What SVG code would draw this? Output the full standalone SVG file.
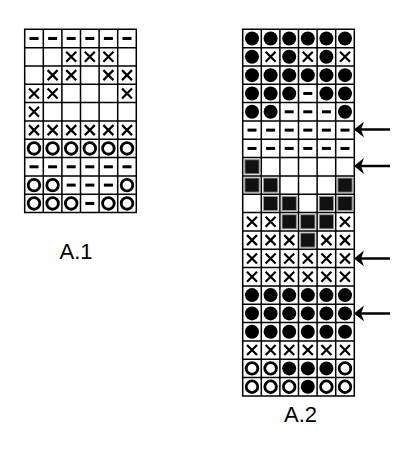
<svg xmlns="http://www.w3.org/2000/svg" xmlns:xlink="http://www.w3.org/1999/xlink" width="406" height="450" viewBox="0 0 406 450">
<style>
.grid{fill:none;stroke:#000;stroke-width:1.5}
.lbl{font-family:"Liberation Sans",Arial,sans-serif;font-size:22px;fill:#000;text-anchor:middle}
.arr{stroke:#000;stroke-width:2.5;fill:none}
</style>
<defs>
<rect id="d" x="-4.5" y="-1.5" width="9" height="3" fill="#000"/>
<path id="x" d="M-5,-5 L5,5 M5,-5 L-5,5" stroke="#000" stroke-width="2.2" fill="none"/>
<circle id="o" r="7" fill="#000"/>
<circle id="r" r="5.8" fill="none" stroke="#000" stroke-width="2.8"/>
<rect id="s" x="-7.2" y="-7.1" width="14.4" height="14.2" fill="#111" stroke="#999" stroke-width="1"/>
<marker id="ah" viewBox="0 0 10 16" refX="7" refY="8" markerWidth="10" markerHeight="16" markerUnits="userSpaceOnUse" orient="auto">
<path d="M0,0 L10,8 L0,16 L3,8 Z" fill="#000"/>
</marker>
</defs>
<rect width="406" height="450" fill="#fff"/>

<g id="A1">
<path class="grid" d="M24.7,29.3 H136.3 V212.6 H24.7 Z M43.3,29.3 V212.6 M61.9,29.3 V212.6 M80.5,29.3 V212.6 M99.1,29.3 V212.6 M117.7,29.3 V212.6 M24.7,47.63 H136.3 M24.7,65.96 H136.3 M24.7,84.29 H136.3 M24.7,102.62 H136.3 M24.7,120.95 H136.3 M24.7,139.28 H136.3 M24.7,157.61 H136.3 M24.7,175.94 H136.3 M24.7,194.27 H136.3"/>
<!-- row 1 -->
<use href="#d" x="34" y="38.47"/><use href="#d" x="52.6" y="38.47"/><use href="#d" x="71.2" y="38.47"/><use href="#d" x="89.8" y="38.47"/><use href="#d" x="108.4" y="38.47"/><use href="#d" x="127" y="38.47"/>
<!-- row 2 -->
<use href="#x" x="71.2" y="56.8"/><use href="#x" x="89.8" y="56.8"/><use href="#x" x="108.4" y="56.8"/>
<!-- row 3 -->
<use href="#x" x="52.6" y="75.13"/><use href="#x" x="71.2" y="75.13"/><use href="#x" x="108.4" y="75.13"/><use href="#x" x="127" y="75.13"/>
<!-- row 4 -->
<use href="#x" x="34" y="93.46"/><use href="#x" x="52.6" y="93.46"/><use href="#x" x="127" y="93.46"/>
<!-- row 5 -->
<use href="#x" x="34" y="111.79"/>
<!-- row 6 -->
<use href="#x" x="34" y="130.12"/><use href="#x" x="52.6" y="130.12"/><use href="#x" x="71.2" y="130.12"/><use href="#x" x="89.8" y="130.12"/><use href="#x" x="108.4" y="130.12"/><use href="#x" x="127" y="130.12"/>
<!-- row 7 -->
<use href="#r" x="34" y="148.45"/><use href="#r" x="52.6" y="148.45"/><use href="#r" x="71.2" y="148.45"/><use href="#r" x="89.8" y="148.45"/><use href="#r" x="108.4" y="148.45"/><use href="#r" x="127" y="148.45"/>
<!-- row 8 -->
<use href="#d" x="34" y="166.78"/><use href="#d" x="52.6" y="166.78"/><use href="#d" x="71.2" y="166.78"/><use href="#d" x="89.8" y="166.78"/><use href="#d" x="108.4" y="166.78"/><use href="#d" x="127" y="166.78"/>
<!-- row 9 -->
<use href="#r" x="34" y="185.11"/><use href="#r" x="52.6" y="185.11"/><use href="#d" x="71.2" y="185.11"/><use href="#d" x="89.8" y="185.11"/><use href="#d" x="108.4" y="185.11"/><use href="#r" x="127" y="185.11"/>
<!-- row 10 -->
<use href="#r" x="34" y="203.44"/><use href="#r" x="52.6" y="203.44"/><use href="#r" x="71.2" y="203.44"/><use href="#d" x="89.8" y="203.44"/><use href="#r" x="108.4" y="203.44"/><use href="#r" x="127" y="203.44"/>
</g>
<g id="A1-label"><text class="lbl" x="76" y="259">A.1</text></g>

<g id="A2">
<path class="grid" d="M242.7,29.3 H354.3 V395.9 H242.7 Z M261.3,29.3 V395.9 M279.9,29.3 V395.9 M298.5,29.3 V395.9 M317.1,29.3 V395.9 M335.7,29.3 V395.9 M242.7,47.63 H354.3 M242.7,65.96 H354.3 M242.7,84.29 H354.3 M242.7,102.62 H354.3 M242.7,120.95 H354.3 M242.7,139.28 H354.3 M242.7,157.61 H354.3 M242.7,175.94 H354.3 M242.7,194.27 H354.3 M242.7,212.6 H354.3 M242.7,230.93 H354.3 M242.7,249.26 H354.3 M242.7,267.59 H354.3 M242.7,285.92 H354.3 M242.7,304.25 H354.3 M242.7,322.58 H354.3 M242.7,340.91 H354.3 M242.7,359.24 H354.3 M242.7,377.57 H354.3"/>
<!-- row 1 -->
<use href="#o" x="252" y="38.47"/><use href="#o" x="270.6" y="38.47"/><use href="#o" x="289.2" y="38.47"/><use href="#o" x="307.8" y="38.47"/><use href="#o" x="326.4" y="38.47"/><use href="#o" x="345" y="38.47"/>
<!-- row 2 -->
<use href="#o" x="252" y="56.8"/><use href="#x" x="270.6" y="56.8"/><use href="#o" x="289.2" y="56.8"/><use href="#x" x="307.8" y="56.8"/><use href="#o" x="326.4" y="56.8"/><use href="#x" x="345" y="56.8"/>
<!-- row 3 -->
<use href="#o" x="252" y="75.13"/><use href="#o" x="270.6" y="75.13"/><use href="#o" x="289.2" y="75.13"/><use href="#o" x="307.8" y="75.13"/><use href="#o" x="326.4" y="75.13"/><use href="#o" x="345" y="75.13"/>
<!-- row 4 -->
<use href="#o" x="252" y="93.46"/><use href="#o" x="270.6" y="93.46"/><use href="#o" x="289.2" y="93.46"/><use href="#d" x="307.8" y="93.46"/><use href="#o" x="326.4" y="93.46"/><use href="#o" x="345" y="93.46"/>
<!-- row 5 -->
<use href="#o" x="252" y="111.79"/><use href="#o" x="270.6" y="111.79"/><use href="#d" x="289.2" y="111.79"/><use href="#d" x="307.8" y="111.79"/><use href="#d" x="326.4" y="111.79"/><use href="#o" x="345" y="111.79"/>
<!-- row 6 -->
<use href="#d" x="252" y="130.12"/><use href="#d" x="270.6" y="130.12"/><use href="#d" x="289.2" y="130.12"/><use href="#d" x="307.8" y="130.12"/><use href="#d" x="326.4" y="130.12"/><use href="#d" x="345" y="130.12"/>
<!-- row 7 -->
<use href="#d" x="252" y="148.45"/><use href="#d" x="270.6" y="148.45"/><use href="#d" x="289.2" y="148.45"/><use href="#d" x="307.8" y="148.45"/><use href="#d" x="326.4" y="148.45"/><use href="#d" x="345" y="148.45"/>
<!-- row 8 -->
<use href="#s" x="252" y="166.78"/>
<!-- row 9 -->
<use href="#s" x="252" y="185.11"/><use href="#s" x="270.6" y="185.11"/><use href="#s" x="345" y="185.11"/>
<!-- row 10 -->
<use href="#s" x="270.6" y="203.44"/><use href="#s" x="289.2" y="203.44"/><use href="#s" x="326.4" y="203.44"/><use href="#s" x="345" y="203.44"/>
<!-- row 11 -->
<use href="#x" x="252" y="221.77"/><use href="#x" x="270.6" y="221.77"/><use href="#s" x="289.2" y="221.77"/><use href="#s" x="307.8" y="221.77"/><use href="#s" x="326.4" y="221.77"/><use href="#x" x="345" y="221.77"/>
<!-- row 12 -->
<use href="#x" x="252" y="240.1"/><use href="#x" x="270.6" y="240.1"/><use href="#x" x="289.2" y="240.1"/><use href="#s" x="307.8" y="240.1"/><use href="#x" x="326.4" y="240.1"/><use href="#x" x="345" y="240.1"/>
<!-- row 13 -->
<use href="#x" x="252" y="258.43"/><use href="#x" x="270.6" y="258.43"/><use href="#x" x="289.2" y="258.43"/><use href="#x" x="307.8" y="258.43"/><use href="#x" x="326.4" y="258.43"/><use href="#x" x="345" y="258.43"/>
<!-- row 14 -->
<use href="#x" x="252" y="276.76"/><use href="#x" x="270.6" y="276.76"/><use href="#x" x="289.2" y="276.76"/><use href="#x" x="307.8" y="276.76"/><use href="#x" x="326.4" y="276.76"/><use href="#x" x="345" y="276.76"/>
<!-- row 15 -->
<use href="#o" x="252" y="295.09"/><use href="#o" x="270.6" y="295.09"/><use href="#o" x="289.2" y="295.09"/><use href="#o" x="307.8" y="295.09"/><use href="#o" x="326.4" y="295.09"/><use href="#o" x="345" y="295.09"/>
<!-- row 16 -->
<use href="#o" x="252" y="313.42"/><use href="#o" x="270.6" y="313.42"/><use href="#o" x="289.2" y="313.42"/><use href="#o" x="307.8" y="313.42"/><use href="#o" x="326.4" y="313.42"/><use href="#o" x="345" y="313.42"/>
<!-- row 17 -->
<use href="#o" x="252" y="331.75"/><use href="#o" x="270.6" y="331.75"/><use href="#o" x="289.2" y="331.75"/><use href="#o" x="307.8" y="331.75"/><use href="#o" x="326.4" y="331.75"/><use href="#o" x="345" y="331.75"/>
<!-- row 18 -->
<use href="#x" x="252" y="350.08"/><use href="#x" x="270.6" y="350.08"/><use href="#x" x="289.2" y="350.08"/><use href="#x" x="307.8" y="350.08"/><use href="#x" x="326.4" y="350.08"/><use href="#x" x="345" y="350.08"/>
<!-- row 19 -->
<use href="#r" x="252" y="368.41"/><use href="#r" x="270.6" y="368.41"/><use href="#o" x="289.2" y="368.41"/><use href="#o" x="307.8" y="368.41"/><use href="#o" x="326.4" y="368.41"/><use href="#r" x="345" y="368.41"/>
<!-- row 20 -->
<use href="#r" x="252" y="386.74"/><use href="#r" x="270.6" y="386.74"/><use href="#r" x="289.2" y="386.74"/><use href="#o" x="307.8" y="386.74"/><use href="#r" x="326.4" y="386.74"/><use href="#r" x="345" y="386.74"/>
</g>
<g id="A2-label"><text class="lbl" x="300.5" y="421.5">A.2</text></g>

<g id="connectors">
<line class="arr" x1="390" y1="129.6" x2="357" y2="129.6" marker-end="url(#ah)"/>
<line class="arr" x1="390" y1="166" x2="357" y2="166" marker-end="url(#ah)"/>
<line class="arr" x1="390" y1="258.4" x2="357" y2="258.4" marker-end="url(#ah)"/>
<line class="arr" x1="390" y1="313.4" x2="357" y2="313.4" marker-end="url(#ah)"/>
</g>
</svg>
